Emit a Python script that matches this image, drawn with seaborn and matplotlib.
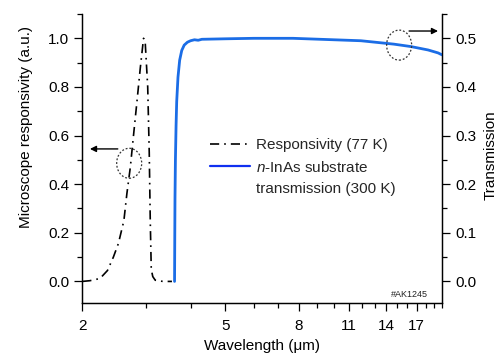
import numpy as np
import pandas as pd
import matplotlib
matplotlib.use("Agg")
import matplotlib.pyplot as plt
import seaborn as sns
from matplotlib.patches import Ellipse
from matplotlib.lines import Line2D
from matplotlib.transforms import ScaledTranslation
from matplotlib.ticker import NullFormatter, FixedLocator

# ---------------- data ----------------
resp_wl = [2.0, 2.1, 2.24, 2.35, 2.44, 2.52, 2.61, 2.66, 2.72, 2.78, 2.84, 2.90,
           2.94, 2.96, 2.99, 3.04, 3.07, 3.09, 3.11, 3.14, 3.19, 3.35, 3.55]
resp_val = [0.0, 0.003, 0.012, 0.045, 0.10, 0.156, 0.25, 0.36, 0.47, 0.61, 0.745, 0.88,
            0.96, 1.0, 0.99, 0.80, 0.53, 0.25, 0.05, 0.02, 0.005, 0.0, 0.0]

trans_wl = [3.61, 3.615, 3.62, 3.63, 3.645, 3.66, 3.69, 3.73, 3.78, 3.84, 3.92, 4.0, 4.1,
            4.2, 4.3, 5.0, 6.0, 7.7, 10.0, 11.9, 14.7, 16.4, 18.3, 19.5, 20.0]
trans_val = [0.0, 0.09, 0.17, 0.25, 0.32, 0.37, 0.42, 0.455, 0.475, 0.486, 0.492, 0.495, 0.497,
             0.496, 0.498, 0.499, 0.5, 0.5, 0.497, 0.495, 0.488, 0.483, 0.476, 0.470, 0.466]

x_major = [2, 5, 8, 11, 14, 17]
x_minor = [3, 4, 6, 7, 9, 10, 12, 13, 15, 16, 18, 19, 20]
left_major = [0.0, 0.2, 0.4, 0.6, 0.8, 1.0]
right_major = [0.0, 0.1, 0.2, 0.3, 0.4, 0.5]

legend_labels = ["Responsivity (77 K)", "$n$-InAs substrate", "transmission (300 K)"]
sample_tag = "#AK1245"

# ---------------- style ----------------
sns.set_theme(style="ticks")
plt.rcParams["font.family"] = ["Liberation Sans", "DejaVu Sans"]
plt.rcParams["mathtext.fontset"] = "custom"
plt.rcParams["mathtext.it"] = "Liberation Sans:italic"
plt.rcParams["mathtext.rm"] = "Liberation Sans"
plt.rcParams["axes.linewidth"] = 0.9
FS = 11

W, H = 501, 356
fig = plt.figure(figsize=(W / 100, H / 100), dpi=100)
ax = fig.add_axes([82.3 / W, 1 - 303.3 / H, (442 - 82.3) / W, (303.3 - 14) / H])
ax2 = ax.twinx()

blue = "#1b6de6"
df_r = pd.DataFrame({"wl": resp_wl, "r": resp_val})
df_t = pd.DataFrame({"wl": trans_wl, "t": trans_val})
sns.lineplot(data=df_r, x="wl", y="r", ax=ax, color="black", lw=1.2,
             linestyle=(0, (5.5, 3, 1, 3)), sort=False)
sns.lineplot(data=df_t, x="wl", y="t", ax=ax2, color=blue, lw=2.0, sort=False)

ax.set_xscale("log")
ax.set_xlim(2, 20)
ax.set_ylim(-0.09, 1.1)
ax2.set_ylim(-0.045, 0.55)

ax.xaxis.set_major_locator(FixedLocator(x_major))
ax.xaxis.set_minor_locator(FixedLocator(x_minor))
ax.set_xticklabels([str(v) for v in x_major])
ax.xaxis.set_minor_formatter(NullFormatter())

ax.set_yticks(left_major)
ax.set_yticklabels([f"{v:.1f}" for v in left_major])
ax.set_yticks(np.arange(0, 1.101, 0.1), minor=True)
ax2.set_yticks(right_major)
ax2.set_yticklabels([f"{v:.1f}" for v in right_major])
ax2.set_yticks(np.arange(0, 0.551, 0.05), minor=True)

for a in (ax, ax2):
    a.tick_params(which="major", length=6, width=0.9, labelsize=FS, color="black", labelcolor="black")
    a.tick_params(which="minor", length=3.5, width=0.9, color="black")
    for s in a.spines.values():
        s.set_color("black")
        s.set_linewidth(0.9)
    a.spines["top"].set_visible(False)
    a.grid(False)
ax.tick_params(axis="x", which="major", pad=5.5)

ax.set_xlabel("Wavelength (μm)", fontsize=FS, color="black")
ax.set_ylabel("Microscope responsivity (a.u.)", fontsize=FS, color="black")
ax2.set_ylabel("Transmission", fontsize=FS, color="black")
ax.yaxis.set_label_coords(-0.136, 0.61)
ax2.yaxis.set_label_coords(1.117, 0.513)
ax.xaxis.set_label_coords(0.5, -0.122)

# legend
handles = [Line2D([], [], color="black", lw=1.2, linestyle=(0, (5.5, 3, 1, 3))),
           Line2D([], [], color="#1030f0", lw=1.6),
           Line2D([], [], color="none")]
fig.legend(handles, legend_labels, loc="upper left",
           bbox_to_anchor=(210 / W, 1 - 138 / H), frameon=False,
           fontsize=FS, handlelength=2.62, handletextpad=0.4,
           borderpad=0, borderaxespad=0, labelspacing=0.5)

# annotation circles and arrows
def ellipse_at(axis, x, y, w_px, h_px):
    tr = fig.dpi_scale_trans + ScaledTranslation(x, y, axis.transData)
    e = Ellipse((0, 0), w_px / 100, h_px / 100, transform=tr, fill=False,
                edgecolor="#333333", lw=0.9, linestyle=(0, (1.5, 1.5)))
    fig.add_artist(e)

ellipse_at(ax, 2.70, 0.486, 25, 30)
ellipse_at(ax2, 15.2, 0.486, 25, 30)

ax.annotate("", xy=(2.10, 0.545), xytext=(2.51, 0.545),
            arrowprops=dict(arrowstyle="-|>", color="black", lw=1.0,
                            mutation_scale=9, shrinkA=0, shrinkB=0))
ax2.annotate("", xy=(19.5, 0.515), xytext=(16.2, 0.515),
             arrowprops=dict(arrowstyle="-|>", color="black", lw=1.0,
                             mutation_scale=9, shrinkA=0, shrinkB=0),
             annotation_clip=False)

fig.text(428 / W, 1 - 297 / H, sample_tag, fontsize=6.5, ha="right", va="baseline", color="#222222")

fig.savefig("out.png", dpi=100)
